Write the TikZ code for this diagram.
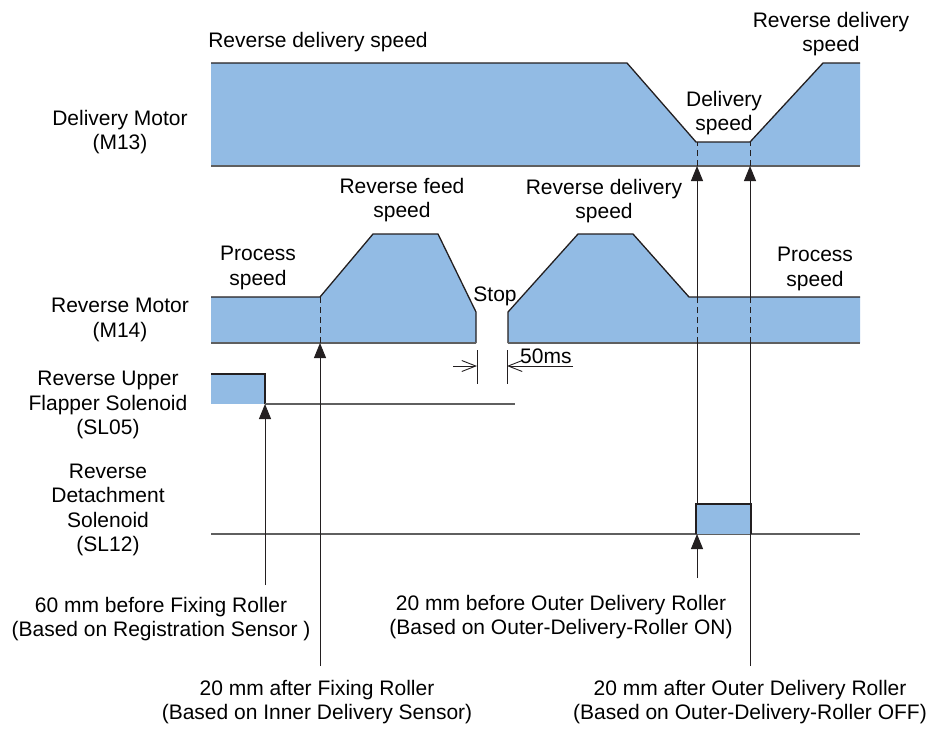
\documentclass[tikz,border=0pt]{standalone}
\usepackage{fontspec}
\setmainfont{Liberation Sans}
\usepackage{tikz}
\usetikzlibrary{positioning,arrows.meta}
\definecolor{sblue}{RGB}{146,187,228}
\definecolor{dline}{RGB}{35,31,32}
\definecolor{bline}{RGB}{95,95,95}
\tikzset{
  lb/.style={align=center, inner sep=0pt, font=\fontsize{21}{24.5}\selectfont},
  sig/.style={dline, line width=1.3pt, line join=miter},
  base/.style={bline, line width=1.1pt},
  sf/.style={fill=sblue},
  up/.style={-{Triangle[length=15pt,width=12pt]}, dline, line width=1pt},
  vl/.style={dline, line width=1pt},
  dsh/.style={dline, line width=1pt, dash pattern=on 6pt off 4pt},
  dim/.style={-{Straight Barb[length=14pt,width=11pt]}, dline, line width=0.9pt},
  timing/.style={x=1pt, y=-1pt}
}

\begin{document}
\begin{tikzpicture}[timing]
        \useasboundingbox (0,0) rectangle (933,729);
        % signal rows
        \node[lb] (m13) at (120,132) {Delivery Motor\\(M13)};
        \node[lb] (m14) at (120,320) {Reverse Motor\\(M14)};
        \node[lb] (sl05) at (108,405) {Reverse Upper\\Flapper Solenoid\\(SL05)};
        \node[lb] (sl12) at (108,510) {Reverse\\Detachment\\Solenoid\\(SL12)};
        % delivery motor
        \fill[sf] (211,166) -- (211,63) -- (627,63) -- (696,142) -- (750,142) -- (823,63) -- (860,63) -- (860,166) -- cycle;
        \draw[sig] (211,63) -- (627,63) -- (696,142) -- (750,142) -- (823,63) -- (860,63);
        \draw[base] (211,166) -- (860,166);
        % reverse motor
        \fill[sf] (211,343) -- (211,297) -- (320,297) -- (373,234) -- (438,234) -- (476,312) -- (476,343) -- cycle;
        \fill[sf] (508,343) -- (508,312) -- (578,234) -- (633,234) -- (689,297) -- (860,297) -- (860,343) -- cycle;
        \draw[sig] (211,297) -- (320,297) -- (373,234) -- (438,234) -- (476,312) -- (476,343);
        \draw[sig] (508,343) -- (508,312) -- (578,234) -- (633,234) -- (689,297) -- (860,297);
        \draw[base] (211,343) -- (476,343) (508,343) -- (860,343);
        % SL05
        \fill[sf] (211,374) rectangle (265,404);
        \draw[sig] (211,374) -- (265,374) -- (265,404);
        \draw[base] (265,404) -- (515,404);
        % SL12
        \draw[base] (211,534) -- (860,534);
        \fill[sf] (696,504) rectangle (751,534);
        \draw[sig] (696,534) -- (696,504) -- (751,504) -- (751,534);
        % speed labels
        \node[lb] (rds1) at (318,42) {Reverse delivery speed};
        \node[lb] (ds) at (724,113) {Delivery\\speed};
        \node[lb] (rds2) at (831,34) {Reverse delivery\\speed};
        \node[lb] (rfs) at (402,200) {Reverse feed\\speed};
        \node[lb] (rds3) at (604,201) {Reverse delivery\\speed};
        \node[lb] (ps1) at (258,268) {Process\\speed};
        \node[lb] (ps2) at (815,269) {Process\\speed};
        \node[lb] (stop) at (495,296) {Stop};
        % 50ms gap
        \coordinate (g1) at (477,366);
        \coordinate (g2) at (507,366);
        \draw[vl] (477,350) -- (477,384) (507,350) -- (507,384);
        \draw[dim] (453,366) -- (g1);
        \draw[dim] (573,366) -- (g2);
        \node[lb, anchor=west] (gap) at (520,356) {50ms};
        % timing points
        \node[lb] (p60) at (161,619) {60 mm before Fixing Roller\\(Based on Registration Sensor )};
        \node[lb] (p20b) at (561,617) {20 mm before Outer Delivery Roller\\(Based on Outer-Delivery-Roller ON)};
        \node[lb] (p20f) at (317,702) {20 mm after Fixing Roller\\(Based on Inner Delivery Sensor)};
        \node[lb] (p20a) at (750,702) {20 mm after Outer Delivery Roller\\(Based on Outer-Delivery-Roller OFF)};
        \coordinate (a) at (265,585);
        \coordinate (b) at (320,666);
        \coordinate (c) at (697,578);
        \coordinate (d) at (750,666);
        % arrows
        \draw[up] (a) -- (265,404);
        \draw[up] (b) -- (320,343);
        \draw[dsh] (320,343) -- (320,297);
        \draw[up] (c) -- (697,534);
        \draw[vl] (697,504) -- (697,343);
        \draw[dsh] (697,343) -- (697,297);
        \draw[up] (697,297) -- (697,166);
        \draw[dsh] (697,166) -- (697,142);
        \draw[vl] (d) -- (750,343);
        \draw[dsh] (750,343) -- (750,297);
        \draw[up] (750,297) -- (750,166);
        \draw[dsh] (750,166) -- (750,142);
\end{tikzpicture}
\end{document}
